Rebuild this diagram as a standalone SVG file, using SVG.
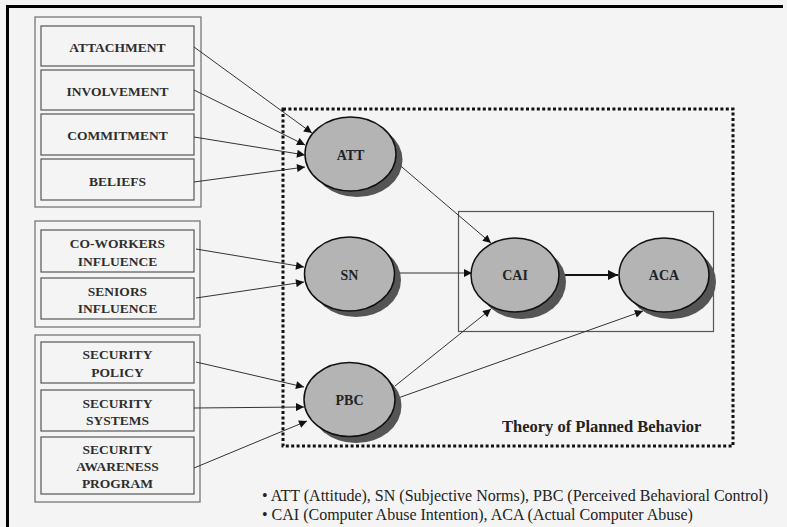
<svg xmlns="http://www.w3.org/2000/svg" width="787" height="527" viewBox="0 0 787 527">
  <defs>
    <marker id="arrow" viewBox="0 0 10 10" refX="10" refY="5" markerWidth="10" markerHeight="8" markerUnits="userSpaceOnUse" orient="auto">
      <path d="M0,0 L10,5 L0,10 z" fill="#111"/>
    </marker>
    <marker id="arrowBig" viewBox="0 0 10 10" refX="10" refY="5" markerWidth="12" markerHeight="10" markerUnits="userSpaceOnUse" orient="auto">
      <path d="M0,0 L10,5 L0,10 z" fill="#111"/>
    </marker>
  </defs>
  <style>
    .frame { fill: none; stroke: #000; stroke-width: 3; }
    .group { fill: none; stroke: #777; stroke-width: 1.3; }
    .box { fill: none; stroke: #555; stroke-width: 1.2; }
    .lbl { font-family: "Liberation Serif", "Times New Roman", serif; font-weight: bold; font-size: 13.5px; fill: #2e2e2e; text-anchor: middle; }
    .oval { fill: #b4b4b4; stroke: #111; stroke-width: 1.5; }
    .shadow { fill: #555; }
    .olbl { font-family: "Liberation Serif", "Times New Roman", serif; font-weight: bold; font-size: 14px; fill: #222; text-anchor: middle; }
    .edge { fill: none; stroke: #333; stroke-width: 1; marker-end: url(#arrow); }
    .edge-main { fill: none; stroke: #111; stroke-width: 2; marker-end: url(#arrowBig); }
    .tpb { fill: none; stroke: #111; stroke-width: 3; stroke-dasharray: 3 2.4; }
    .inner { fill: none; stroke: #555; stroke-width: 1.2; }
    .title { font-family: "Liberation Serif", "Times New Roman", serif; font-weight: bold; font-size: 16.5px; fill: #222; }
    .note { font-family: "Liberation Serif", "Times New Roman", serif; font-size: 16px; fill: #222; }
  </style>

  <!-- page background and cropped frame edges -->
  <rect x="0" y="0" width="787" height="527" fill="#f4f4f4"/>
  <line x1="7.5" y1="6.5" x2="783" y2="6.5" class="frame"/>
  <line x1="7.5" y1="5" x2="7.5" y2="527" class="frame"/>

  <!-- Theory of Planned Behavior boundary -->
  <rect x="283" y="109" width="450" height="337" class="tpb"/>
  <rect x="458.5" y="211.5" width="255" height="120" class="inner"/>
  <text x="502" y="432" class="title">Theory of Planned Behavior</text>

  <!-- antecedent groups -->
  <g id="bonds-group">
    <rect x="35" y="17" width="166" height="190" class="group"/>
    <g id="attachment">
      <rect x="41" y="26" width="153" height="40" class="box"/>
      <text x="117.5" y="52" class="lbl">ATTACHMENT</text>
    </g>
    <g id="involvement">
      <rect x="41" y="70" width="153" height="40" class="box"/>
      <text x="117.5" y="96" class="lbl">INVOLVEMENT</text>
    </g>
    <g id="commitment">
      <rect x="41" y="114" width="153" height="41" class="box"/>
      <text x="117.5" y="140" class="lbl">COMMITMENT</text>
    </g>
    <g id="beliefs">
      <rect x="41" y="159" width="153" height="41" class="box"/>
      <text x="117.5" y="186" class="lbl">BELIEFS</text>
    </g>
  </g>

  <g id="influence-group">
    <rect x="35" y="221" width="165" height="106" class="group"/>
    <g id="coworkers">
      <rect x="41" y="230" width="153" height="42" class="box"/>
      <text x="117.5" y="248" class="lbl">CO-WORKERS</text>
      <text x="117.5" y="266" class="lbl">INFLUENCE</text>
    </g>
    <g id="seniors">
      <rect x="41" y="278" width="153" height="41" class="box"/>
      <text x="117.5" y="296" class="lbl">SENIORS</text>
      <text x="117.5" y="313" class="lbl">INFLUENCE</text>
    </g>
  </g>

  <g id="security-group">
    <rect x="35" y="335" width="165" height="167" class="group"/>
    <g id="policy">
      <rect x="41" y="342" width="153" height="41" class="box"/>
      <text x="117.5" y="359" class="lbl">SECURITY</text>
      <text x="117.5" y="377" class="lbl">POLICY</text>
    </g>
    <g id="systems">
      <rect x="41" y="390" width="153" height="41" class="box"/>
      <text x="117.5" y="408" class="lbl">SECURITY</text>
      <text x="117.5" y="425" class="lbl">SYSTEMS</text>
    </g>
    <g id="awareness">
      <rect x="41" y="437" width="153" height="57" class="box"/>
      <text x="117.5" y="454" class="lbl">SECURITY</text>
      <text x="117.5" y="471" class="lbl">AWARENESS</text>
      <text x="117.5" y="488" class="lbl">PROGRAM</text>
    </g>
  </g>

  <!-- connectors -->
  <g id="connectors">
    <line x1="194" y1="47" x2="312" y2="133" class="edge"/>
    <line x1="194" y1="90" x2="305" y2="145" class="edge"/>
    <line x1="194" y1="137" x2="305" y2="155" class="edge"/>
    <line x1="194" y1="182" x2="305" y2="167" class="edge"/>
    <line x1="196" y1="249" x2="304" y2="267" class="edge"/>
    <line x1="196" y1="298" x2="304" y2="282" class="edge"/>
    <line x1="196" y1="362" x2="304" y2="387" class="edge"/>
    <line x1="194" y1="408" x2="304" y2="407" class="edge"/>
    <line x1="194" y1="468" x2="307" y2="421" class="edge"/>
    <line x1="396" y1="162" x2="491" y2="243" class="edge"/>
    <line x1="396" y1="273" x2="472" y2="273" class="edge"/>
    <line x1="395" y1="386" x2="491" y2="309" class="edge"/>
    <line x1="398" y1="398" x2="643" y2="311" class="edge"/>
    <line x1="559" y1="275" x2="618" y2="275" class="edge-main"/>
  </g>

  <!-- constructs -->
  <g id="att">
    <ellipse cx="357" cy="160" rx="45.5" ry="37" class="shadow"/>
    <ellipse cx="350.5" cy="154" rx="45.5" ry="37" class="oval"/>
    <text x="350.5" y="160" class="olbl">ATT</text>
  </g>
  <g id="sn">
    <ellipse cx="356" cy="280" rx="45" ry="37" class="shadow"/>
    <ellipse cx="349.5" cy="274" rx="45" ry="37" class="oval"/>
    <text x="349.5" y="280" class="olbl">SN</text>
  </g>
  <g id="pbc">
    <ellipse cx="356" cy="406" rx="45.5" ry="37" class="shadow"/>
    <ellipse cx="349.5" cy="399.5" rx="45.5" ry="37" class="oval"/>
    <text x="349.5" y="405" class="olbl">PBC</text>
  </g>
  <g id="cai">
    <ellipse cx="522" cy="282" rx="44" ry="37" class="shadow"/>
    <ellipse cx="515" cy="275" rx="44" ry="37" class="oval"/>
    <text x="515" y="280" class="olbl">CAI</text>
  </g>
  <g id="aca">
    <ellipse cx="671" cy="282" rx="45" ry="37" class="shadow"/>
    <ellipse cx="664" cy="275" rx="45" ry="37" class="oval"/>
    <text x="664" y="280" class="olbl">ACA</text>
  </g>

  <!-- abbreviations -->
  <text x="262" y="501" class="note">• ATT (Attitude), SN (Subjective Norms), PBC (Perceived Behavioral Control)</text>
  <text x="262" y="520" class="note">• CAI (Computer Abuse Intention), ACA (Actual Computer Abuse)</text>
</svg>
